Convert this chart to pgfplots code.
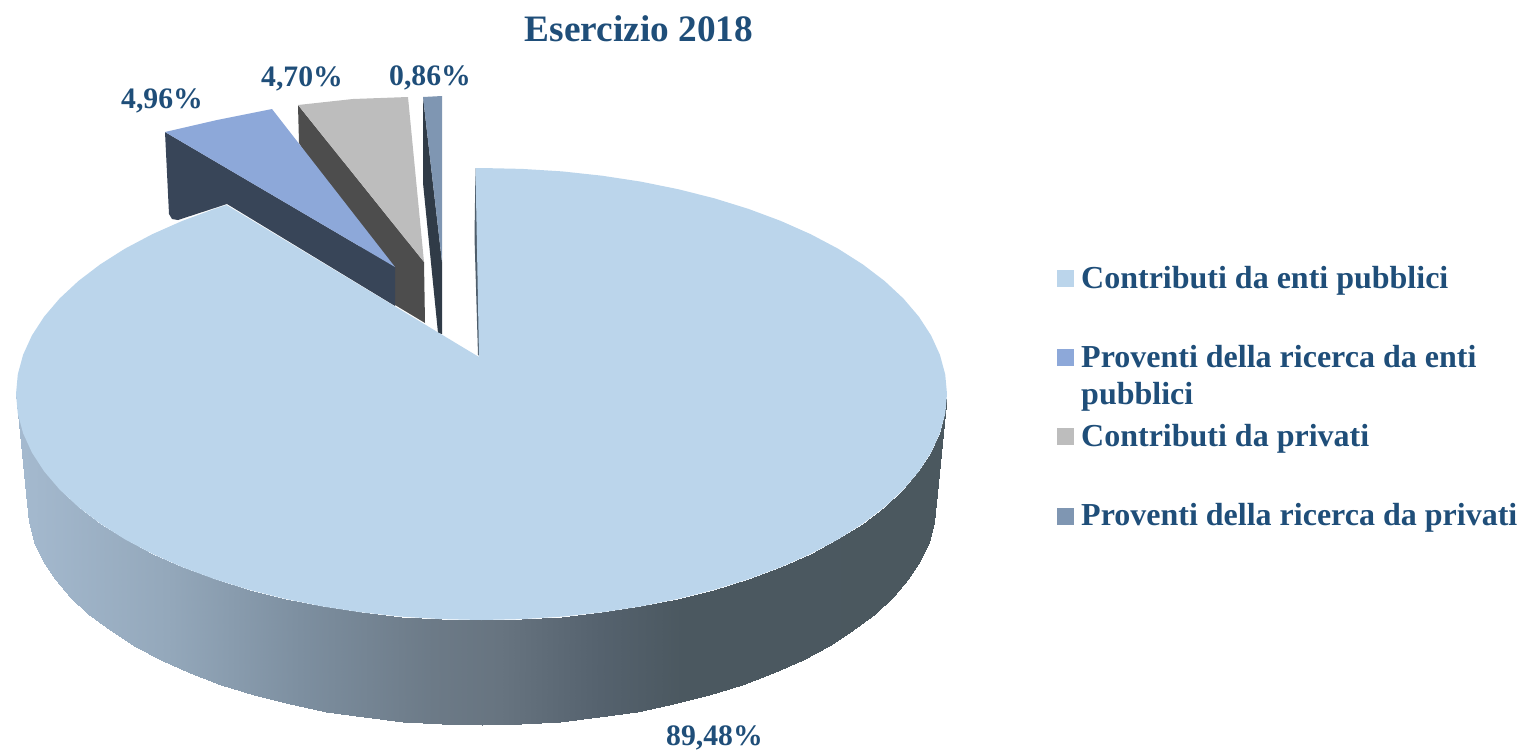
\documentclass[border=0pt]{standalone}
\usepackage{pgfplots}
\pgfplotsset{compat=1.18}
\usepackage{fontspec}
\setmainfont{Liberation Serif}
\definecolor{txt}{HTML}{1F4E79}
\definecolor{mainc}{HTML}{BBD5EB}
\definecolor{bluec}{HTML}{8DA8D9}
\definecolor{blued}{HTML}{384558}
\definecolor{greyc}{HTML}{BDBDBD}
\definecolor{greyd}{HTML}{4D4D4D}
\definecolor{smallc}{HTML}{7F96B2}
\definecolor{smalld}{HTML}{303B47}
\definecolor{sliver}{HTML}{4F5E6B}
\pgfplotsset{colormap={side}{rgb255(0)=(166,188,210) rgb255(33)=(163,184,205) rgb255(167)=(148,168,187) rgb255(300)=(125,143,160) rgb255(433)=(108,122,135) rgb255(500)=(103,116,128) rgb255(600)=(85,98,110) rgb255(683)=(75,88,96) rgb255(1000)=(75,88,95)}}
\begin{document}
\begin{tikzpicture}
\begin{axis}[
  name=pie,
  scale only axis, width=1524pt, height=752pt,
  xmin=0, xmax=1524, ymin=0, ymax=752, y dir=reverse,
  hide axis, clip=false,
  colormap name=side, point meta min=0, point meta max=1000]
% grey slice
\addplot[fill=greyd,draw=none] coordinates {(298,105)(424,262)(425,323)(395,305)(299,143)} --cycle;
\addplot[fill=greyc,draw=none] coordinates {(298,105)(353,99)(408,97)(424,262)} --cycle;
% blue slice
\addplot[fill=blued,draw=none] coordinates {(165,132)(395,267)(395,306)(227,204)(178,220)(172,219)(169,214)} --cycle;
\addplot[fill=bluec,draw=none] coordinates {(165,132)(217,120)(272,109)(395,267)} --cycle;
% small slice
\addplot[fill=smalld,draw=none] coordinates {(423,97)(442,262)(442,334)(438,333)(423,183)} --cycle;
\addplot[fill=smallc,draw=none] coordinates {(423,97)(442,96)(442,262)} --cycle;
% main slice side
\addplot[surf,shader=interp,mesh/cols=37,point meta=x] table[x=x,y=y] {
x y
16.0 394.0
17.8 413.7
23.1 433.2
31.9 452.5
44.1 471.3
59.6 489.5
78.4 507.0
100.2 523.6
124.9 539.3
152.3 553.8
182.3 567.1
214.5 579.1
248.7 589.7
284.8 598.8
322.3 606.4
361.0 612.3
400.7 616.6
440.9 619.1
481.5 620.0
522.1 619.1
562.3 616.6
602.0 612.3
640.7 606.4
678.2 598.8
714.3 589.7
748.5 579.1
780.7 567.1
810.7 553.8
838.1 539.3
862.8 523.6
884.6 507.0
903.4 489.5
918.9 471.3
931.1 452.5
939.9 433.2
945.2 413.7
947.0 394.0
27.5 503.0
29.2 522.4
34.4 541.5
43.0 560.5
54.9 578.9
70.0 596.8
88.3 614.0
109.6 630.3
133.7 645.7
160.5 660.0
189.7 673.1
221.1 684.9
254.5 695.3
289.6 704.2
326.2 711.6
364.0 717.4
402.7 721.6
441.9 724.2
481.5 725.0
521.1 724.2
560.3 721.6
599.0 717.4
636.8 711.6
673.4 704.2
708.5 695.3
741.9 684.9
773.3 673.1
802.5 660.0
829.3 645.7
853.4 630.3
874.7 614.0
893.0 596.8
908.1 578.9
920.0 560.5
928.6 541.5
933.8 522.4
935.5 503.0
};
\addplot[fill=sliver,draw=none] coordinates {(474.5,237)(475.5,168)(481,357)(478,355)} --cycle;
% main slice top
\addplot[fill=mainc,draw=none] coordinates {
(475.5,168)(481.5,168.0)(522.1,168.9)(562.3,171.4)(602.0,175.7)(640.7,181.6)(678.2,189.2)
(714.3,198.3)(748.5,208.9)(780.7,220.9)(810.7,234.2)(838.1,248.7)(862.8,264.4)(884.6,281.0)
(903.4,298.5)(918.9,316.7)(931.1,335.5)(939.9,354.8)(945.2,374.3)(947.0,394.0)
(945.2,413.7)(939.9,433.2)(931.1,452.5)(918.9,471.3)(903.4,489.5)(884.6,507.0)(862.8,523.6)
(838.1,539.3)(810.7,553.8)(780.7,567.1)(748.5,579.1)(714.3,589.7)(678.2,598.8)(640.7,606.4)
(602.0,612.3)(562.3,616.6)(522.1,619.1)(481.5,620.0)(440.9,619.1)(400.7,616.6)(361.0,612.3)
(322.3,606.4)(284.8,598.8)(248.7,589.7)(214.5,579.1)(182.3,567.1)(152.3,553.8)(124.9,539.3)
(100.2,523.6)(78.4,507.0)(59.6,489.5)(44.1,471.3)(31.9,452.5)(23.1,433.2)(17.8,413.7)(16.0,394.0)
(17.8,374.3)(23.1,354.8)(31.9,335.5)(44.1,316.7)(59.6,298.5)(78.4,281.0)(100.2,264.4)
(124.9,248.7)(152.3,234.2)(182.3,220.9)(214.5,208.9)(226.5,205)(479,357)} --cycle;
% legend keys
\addplot[only marks,mark=square*,mark size=7.7pt,color=mainc] coordinates {(1065,278)};
\addplot[only marks,mark=square*,mark size=7.7pt,color=bluec] coordinates {(1065,357)};
\addplot[only marks,mark=square*,mark size=7.7pt,color=greyc] coordinates {(1065,436)};
\addplot[only marks,mark=square*,mark size=7.7pt,color=smallc] coordinates {(1065,516)};
% texts
\node[anchor=base,text=txt,font=\fontsize{37.3}{44}\selectfont\bfseries,inner sep=0pt] at (639,42) {Esercizio 2018};
\tikzset{lab/.style={anchor=base west,text=txt,font=\fontsize{29.7}{36}\selectfont\bfseries,inner sep=0pt},
 leg/.style={anchor=base west,text=txt,font=\fontsize{32}{38}\selectfont\bfseries,inner sep=0pt}}
\node[lab] at (121,108) {4,96\%};
\node[lab] at (261,87) {4,70\%};
\node[lab] at (389,85) {0,86\%};
\node[lab] at (666,745) {89,48\%};
\node[leg] at (1081,288) {Contributi da enti pubblici};
\node[leg] at (1081,367) {Proventi della ricerca da enti};
\node[leg] at (1081,404.5) {pubblici};
\node[leg] at (1081,446) {Contributi da privati};
\node[leg] at (1081,525) {Proventi della ricerca da privati};
\end{axis}
\pgfresetboundingbox
\path (pie.south west) rectangle (pie.north east);
\end{tikzpicture}
\end{document}
